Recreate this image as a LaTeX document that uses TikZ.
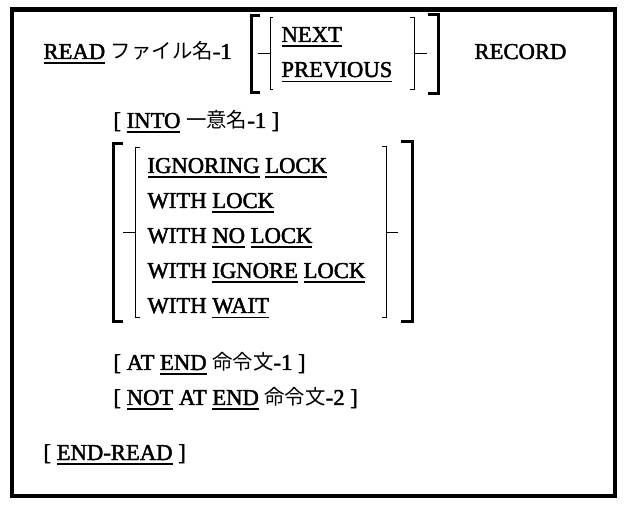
\documentclass[tikz,border=0pt]{standalone}
\usepackage{fontspec}
\setmainfont{Liberation Serif}[FakeBold=2]
\newfontfamily\jp{Noto Sans CJK JP}[Scale=0.9]
\newcommand{\kw}[1]{\leavevmode\vtop{\hbox{#1}\kern2.4pt\hrule height 1.1pt}}

\tikzset{every picture/.style={line width=0.75pt}}
\tikzset{
  txt/.style={anchor=base west, inner sep=0pt, font=\fontsize{17}{20}\selectfont},
  brk/.style={line width=2.25},
  sbrk/.style={line width=0.75}
}

\begin{document}
\begin{tikzpicture}[x=0.75pt,y=0.75pt,yscale=-1,xscale=1]
\useasboundingbox (0,0) rectangle (629,513);

%Frame
\draw [line width=3.4]  (12,9.5) rectangle (615,496) ;

% Text Node
\node [txt] (read) at (43,59) {\kw{READ} {\jp ファイル名}-1};
% Text Node
\node [txt] (next) at (281,42) {\kw{NEXT}};
% Text Node
\node [txt] (prev) at (281,77) {\kw{PREVIOUS}};
% Text Node
\node [txt] (record) at (474,59) {RECORD};

%Brackets NEXT / PREVIOUS
\draw [brk]  (260,16) -- (251.5,16) -- (251.5,93) -- (260,93) ;
\draw [sbrk] (273,18) -- (270,18) -- (270,90) -- (273,90) ;
\draw [sbrk] (258,54) -- (270,54) ;
\draw [sbrk] (410,18) -- (414,18) -- (414,90) -- (410,90) ;
\draw [sbrk] (414,54) -- (427,54) ;
\draw [brk]  (428,15) -- (438,15) -- (438,94) -- (428,94) ;

% Text Node
\node [txt] (into) at (113,128) {[ \kw{INTO} {\jp 一意名}-1 ]};

% Text Node
\node [txt] (ign) at (147,173) {\kw{IGNORING} \kw{LOCK}};
% Text Node
\node [txt] (wlock) at (147,208) {WITH \kw{LOCK}};
% Text Node
\node [txt] (wno) at (147,243) {WITH \kw{NO} \kw{LOCK}};
% Text Node
\node [txt] (wign) at (147,278) {WITH \kw{IGNORE} \kw{LOCK}};
% Text Node
\node [txt] (wwait) at (147,313) {WITH \kw{WAIT}};

%Brackets LOCK options
\draw [brk]  (123,144) -- (113,144) -- (113,322) -- (123,322) ;
\draw [sbrk] (140,148) -- (135,148) -- (135,318) -- (140,318) ;
\draw [sbrk] (123,233) -- (135,233) ;
\draw [sbrk] (382,147) -- (386,147) -- (386,318) -- (382,318) ;
\draw [sbrk] (386,233) -- (398,233) ;
\draw [brk]  (401,142) -- (412,142) -- (412,322) -- (401,322) ;

% Text Node
\node [txt] (atend) at (113,370) {[ AT \kw{END} {\jp 命令文}-1 ]};
% Text Node
\node [txt] (notatend) at (113,405) {[ \kw{NOT} AT \kw{END} {\jp 命令文}-2 ]};
% Text Node
\node [txt] (endread) at (43,460) {[ \kw{END-READ} ]};

\end{tikzpicture}
\end{document}
